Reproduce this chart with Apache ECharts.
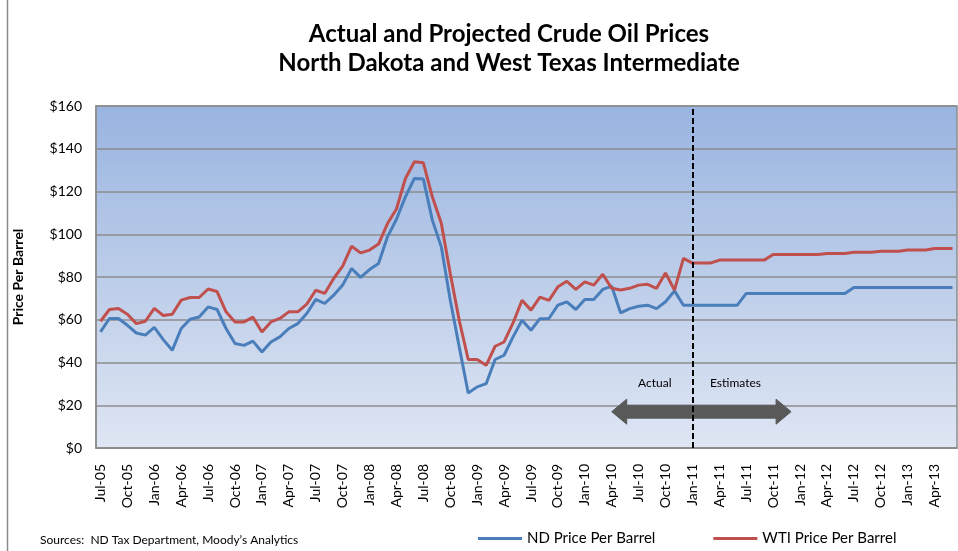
<!DOCTYPE html>
<html>
<head>
<meta charset="utf-8">
<script src="https://cdn.jsdelivr.net/npm/echarts@6/dist/echarts.min.js"></script>
<style>
html,body{margin:0;padding:0;background:#fff;}
#chart{width:958px;height:551px;}
</style>
</head>
<body>
<div id="chart"></div>
<script>
var months = [
 'Jul-05','Aug-05','Sep-05','Oct-05','Nov-05','Dec-05',
 'Jan-06','Feb-06','Mar-06','Apr-06','May-06','Jun-06','Jul-06','Aug-06','Sep-06','Oct-06','Nov-06','Dec-06',
 'Jan-07','Feb-07','Mar-07','Apr-07','May-07','Jun-07','Jul-07','Aug-07','Sep-07','Oct-07','Nov-07','Dec-07',
 'Jan-08','Feb-08','Mar-08','Apr-08','May-08','Jun-08','Jul-08','Aug-08','Sep-08','Oct-08','Nov-08','Dec-08',
 'Jan-09','Feb-09','Mar-09','Apr-09','May-09','Jun-09','Jul-09','Aug-09','Sep-09','Oct-09','Nov-09','Dec-09',
 'Jan-10','Feb-10','Mar-10','Apr-10','May-10','Jun-10','Jul-10','Aug-10','Sep-10','Oct-10','Nov-10','Dec-10',
 'Jan-11','Feb-11','Mar-11','Apr-11','May-11','Jun-11','Jul-11','Aug-11','Sep-11','Oct-11','Nov-11','Dec-11',
 'Jan-12','Feb-12','Mar-12','Apr-12','May-12','Jun-12','Jul-12','Aug-12','Sep-12','Oct-12','Nov-12','Dec-12',
 'Jan-13','Feb-13','Mar-13','Apr-13','May-13','Jun-13'
];

var ndPrice = [
 54.3,60.6,60.6,57.4,53.8,52.8,
 56.4,50.7,45.7,55.9,60.2,61.3,66.0,64.8,55.9,48.9,48.0,50.0,
 44.9,49.6,52.0,55.9,58.2,62.9,69.5,67.6,71.5,76.2,84.0,79.8,
 83.5,86.3,98.8,107.0,117.5,126.1,125.8,106.6,94.1,69.1,47.3,25.7,
 28.6,30.1,41.4,43.4,52.0,59.8,55.1,60.5,60.6,66.8,68.4,64.8,
 69.5,69.5,74.2,75.7,63.2,65.2,66.3,66.8,65.2,68.4,73.5,66.8,
 66.8,66.8,66.8,66.8,66.8,66.8,72.3,72.3,72.3,72.3,72.3,72.3,
 72.3,72.3,72.3,72.3,72.3,72.3,75.1,75.1,75.1,75.1,75.1,75.1,
 75.1,75.1,75.1,75.1,75.1,75.1
];

var wtiPrice = [
 59.3,64.8,65.3,62.6,58.2,59.3,
 65.3,62.0,62.6,69.2,70.4,70.4,74.4,73.2,63.7,59.0,59.0,61.2,
 54.3,59.0,60.6,63.7,63.7,67.3,73.8,72.3,79.3,85.1,94.4,91.3,
 92.6,95.4,105.0,111.8,126.1,133.9,133.4,117.5,105.1,81.6,59.7,41.4,
 41.4,38.7,47.6,49.6,58.5,69.1,64.5,70.6,69.1,75.4,78.0,74.2,
 77.7,76.2,81.3,74.7,73.9,74.7,76.2,76.6,74.7,81.9,73.9,88.7,
 86.5,86.5,86.5,87.9,87.9,87.9,87.9,87.9,87.9,90.5,90.5,90.5,
 90.5,90.5,90.5,91.0,91.0,91.0,91.6,91.6,91.6,92.1,92.1,92.1,
 92.6,92.6,92.6,93.3,93.3,93.3
];

var yTicks = [0, 20, 40, 60, 80, 100, 120, 140, 160];
var seriesNames = ['ND Price Per Barrel', 'WTI Price Per Barrel'];
var dividerMonth = 'Jan-11';
var arrowSpan = ['Apr-10', 'Dec-11'];
var arrowLabels = ['Actual', 'Estimates'];

var FONT = 'Lato, "Liberation Sans", sans-serif';
var chart = echarts.init(document.getElementById('chart'), null, {renderer: 'canvas'});

var arrowStart = months.indexOf(arrowSpan[0]);
var arrowEnd = months.indexOf(arrowSpan[1]);

var option = {
  animation: false,
  backgroundColor: '#ffffff',
  textStyle: {fontFamily: FONT},
  title: {
    text: 'Actual and Projected Crude Oil Prices\nNorth Dakota and West Texas Intermediate',
    left: 504, top: 15, textAlign: 'center',
    textStyle: {fontFamily: FONT, fontSize: 24, fontWeight: 'bold', color: '#000', lineHeight: 29}
  },
  grid: {
    left: 96, top: 106, width: 861, height: 342,
    show: true,
    borderColor: '#8c8c8c', borderWidth: 1.5,
    backgroundColor: {
      type: 'linear', x: 0, y: 0, x2: 0, y2: 1,
      colorStops: [{offset: 0, color: '#99b4e1'}, {offset: 0.5, color: '#bccde9'}, {offset: 1, color: '#dfe6f4'}]
    }
  },
  legend: {
    data: seriesNames,
    left: 473, top: 526,
    icon: 'rect', itemWidth: 44, itemHeight: 3, itemGap: 58,
    textStyle: {fontFamily: FONT, fontSize: 15, color: '#000'}
  },
  xAxis: {
    type: 'category',
    data: months,
    boundaryGap: true,
    axisLine: {show: true, lineStyle: {color: '#8c8c8c', width: 1.5}},
    axisTick: {show: false},
    axisLabel: {interval: 2, rotate: 90, margin: 16, fontFamily: FONT, fontSize: 14, color: '#000'},
    splitLine: {show: false}
  },
  yAxis: {
    type: 'value',
    min: yTicks[0], max: yTicks[yTicks.length - 1], interval: 20,
    name: 'Price Per Barrel',
    nameLocation: 'middle', nameGap: 71, nameRotate: 90,
    nameTextStyle: {fontFamily: FONT, fontSize: 14, fontWeight: 'bold', color: '#000'},
    axisLine: {show: true, lineStyle: {color: '#8c8c8c', width: 1.5}},
    axisTick: {show: false},
    axisLabel: {margin: 14, fontFamily: FONT, fontSize: 14, color: '#000', formatter: function (v) { return '$' + v; }},
    splitLine: {show: true, lineStyle: {color: '#8c8c8c', width: 1.5}}
  },
  series: [
    {
      name: seriesNames[0], type: 'line', data: ndPrice,
      symbol: 'none', smooth: false,
      lineStyle: {color: '#4a7ebb', width: 3},
      itemStyle: {color: '#4a7ebb'},
      z: 3,
      markLine: {
        silent: true, symbol: ['none', 'none'],
        label: {show: false},
        lineStyle: {color: '#000', type: [6, 3], width: 2},
        data: [{xAxis: dividerMonth}],
        z: 6
      }
    },
    {
      name: seriesNames[1], type: 'line', data: wtiPrice,
      symbol: 'none', smooth: false,
      lineStyle: {color: '#c0504d', width: 3},
      itemStyle: {color: '#c0504d'},
      z: 3
    },
    {
      type: 'custom', silent: true, z: 5,
      data: [[arrowStart, 17, arrowEnd]],
      renderItem: function (params, api) {
        var p0 = api.coord([api.value(0), api.value(1)]);
        var p1 = api.coord([api.value(2), api.value(1)]);
        var step = (p1[0] - p0[0]) / (api.value(2) - api.value(0));
        var ty = api.coord([api.value(0), 30.4])[1];
        var cy = p0[1];
        var hs = 6.5, hh = 12.5, hl = 15;
        var x0 = p0[0], x1 = p1[0];
        var pts = [
          [x0, cy], [x0 + hl, cy - hh], [x0 + hl, cy - hs], [x1 - hl, cy - hs], [x1 - hl, cy - hh],
          [x1, cy], [x1 - hl, cy + hh], [x1 - hl, cy + hs], [x0 + hl, cy + hs], [x0 + hl, cy + hh]
        ];
        return {
          type: 'group',
          children: [
            {type: 'polygon', shape: {points: pts}, style: {fill: '#595959', stroke: '#595959', lineWidth: 1}},
            {type: 'text', x: x0 + step * 4.8, y: ty, style: {text: arrowLabels[0], fill: '#000', font: '12px ' + FONT, textAlign: 'center', textVerticalAlign: 'middle'}},
            {type: 'text', x: x0 + step * 13.8, y: ty, style: {text: arrowLabels[1], fill: '#000', font: '12px ' + FONT, textAlign: 'center', textVerticalAlign: 'middle'}}
          ]
        };
      }
    }
  ],
  graphic: [
    {type: 'line', shape: {x1: 7.5, y1: 0, x2: 7.5, y2: 551}, style: {stroke: '#8c8c8c', lineWidth: 1.5}, silent: true},
    {type: 'text', left: 40, top: 534, style: {text: 'Sources:  ND Tax Department, Moody\u2019s Analytics', fill: '#000', font: '12px ' + FONT}}
  ]
};
chart.setOption(option);
</script>
</body>
</html>
